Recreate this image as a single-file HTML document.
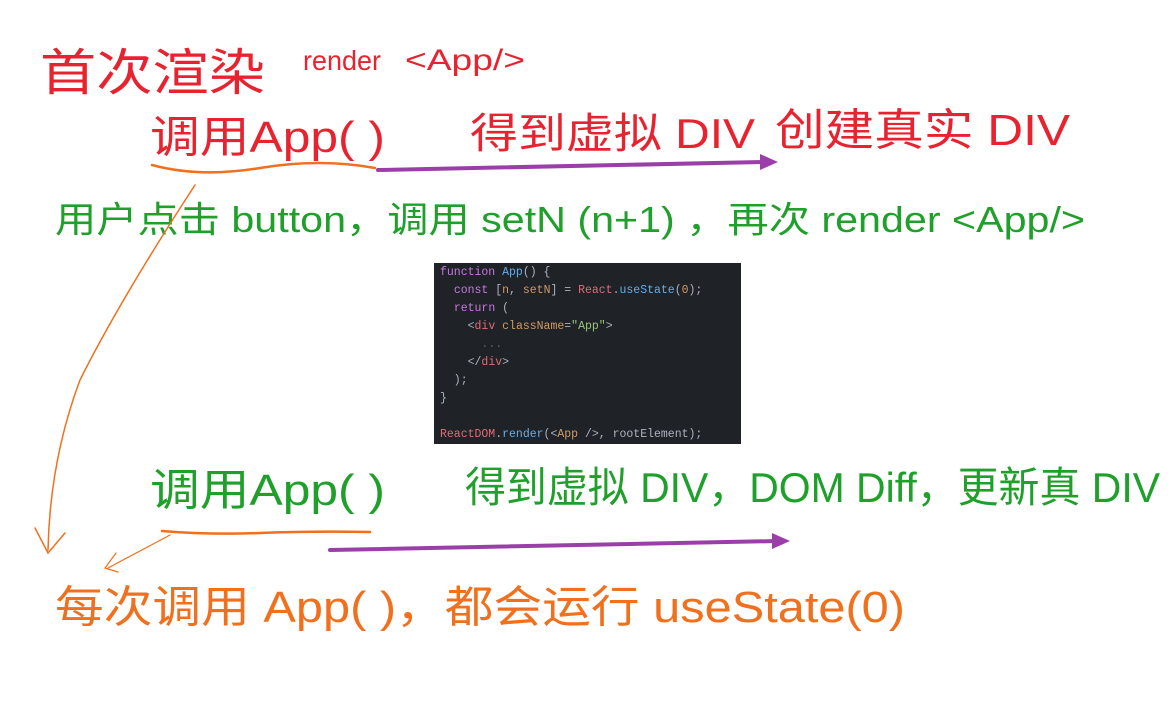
<!DOCTYPE html>
<html><head><meta charset="utf-8"><style>
html,body{margin:0;padding:0;background:#fff;width:1171px;height:702px;overflow:hidden}
svg text{font-family:"Liberation Sans","Noto Sans CJK SC",sans-serif}
.code{position:absolute;left:434px;top:263px;width:307px;height:181px;background:#1f2227;font-family:"Liberation Mono",monospace;font-size:11.5px;line-height:18px;color:#abb2bf;padding:1px 0 0 6px;box-sizing:border-box;white-space:pre}
.k{color:#c678dd}.f{color:#61afef}.r{color:#e06c75}.o{color:#d19a66}.s{color:#98c379}.g{color:#5c6370}
</style></head><body>
<svg width="1171" height="702" style="position:absolute;left:0;top:0">
<g fill="#e8232f">
<text x="40" y="90" font-size="50" textLength="225" lengthAdjust="spacingAndGlyphs">首次渲染</text>
<text x="303" y="70" font-size="28" textLength="78" lengthAdjust="spacingAndGlyphs">render</text>
<text x="405" y="70" font-size="30" textLength="120" lengthAdjust="spacingAndGlyphs">&lt;App/&gt;</text>
<text x="150" y="152" font-size="44" textLength="235" lengthAdjust="spacingAndGlyphs">调用App(  )</text>
<text x="470" y="148" font-size="42" textLength="285" lengthAdjust="spacingAndGlyphs">得到虚拟 DIV</text>
<text x="775" y="145" font-size="44" textLength="295" lengthAdjust="spacingAndGlyphs">创建真实 DIV</text>
</g>
<g fill="#1fa02b">
<text x="55" y="232" font-size="36" textLength="1030" lengthAdjust="spacingAndGlyphs">用户点击 button，调用  setN (n+1) ，再次 render &lt;App/&gt;</text>
<text x="150" y="505" font-size="44" textLength="235" lengthAdjust="spacingAndGlyphs">调用App(  )</text>
<text x="465" y="502" font-size="42" textLength="695" lengthAdjust="spacingAndGlyphs">得到虚拟 DIV，DOM Diff，更新真 DIV</text>
</g>
<text x="55" y="622" font-size="44" fill="#f0701e" textLength="850" lengthAdjust="spacingAndGlyphs">每次调用 App( )，都会运行  useState(0)</text>
<g stroke="#f0701e" fill="none" stroke-linecap="round">
<path d="M152 165 Q200 178 260 168 T375 168" stroke-width="2.5"/>
<path d="M162 531 Q210 535 260 533 T370 532" stroke-width="2.5"/>
<path d="M195 185 Q120 300 80 380 Q50 460 48 550" stroke-width="1.5"/>
<path d="M35 528 L48 553 L65 533" stroke-width="1.5"/>
<path d="M170 535 L108 568" stroke-width="1.2"/>
<path d="M116 553 L105 568 L118 572" stroke-width="1.2"/>
</g>
<g stroke="#9b3fa8" stroke-width="4" fill="#9b3fa8" stroke-linecap="round">
<line x1="378" y1="170" x2="765" y2="162"/>
<polygon points="778,162 760,154 760,170" stroke="none"/>
<line x1="330" y1="550" x2="778" y2="541"/>
<polygon points="790,541 772,533 772,549" stroke="none"/>
</g>
</svg>
<div class="code"><span class="k">function</span> <span class="f">App</span>() {
  <span class="k">const</span> [<span class="o">n</span>, <span class="o">setN</span>] = <span class="r">React</span>.<span class="f">useState</span>(<span class="o">0</span>);
  <span class="k">return</span> (
    &lt;<span class="r">div</span> <span class="o">className</span>=<span class="s">"App"</span>&gt;
      <span class="g">...</span>
    &lt;/<span class="r">div</span>&gt;
  );
}

<span class="r">ReactDOM</span>.<span class="f">render</span>(&lt;<span class="o">App</span> /&gt;, rootElement);</div>
</body></html>
